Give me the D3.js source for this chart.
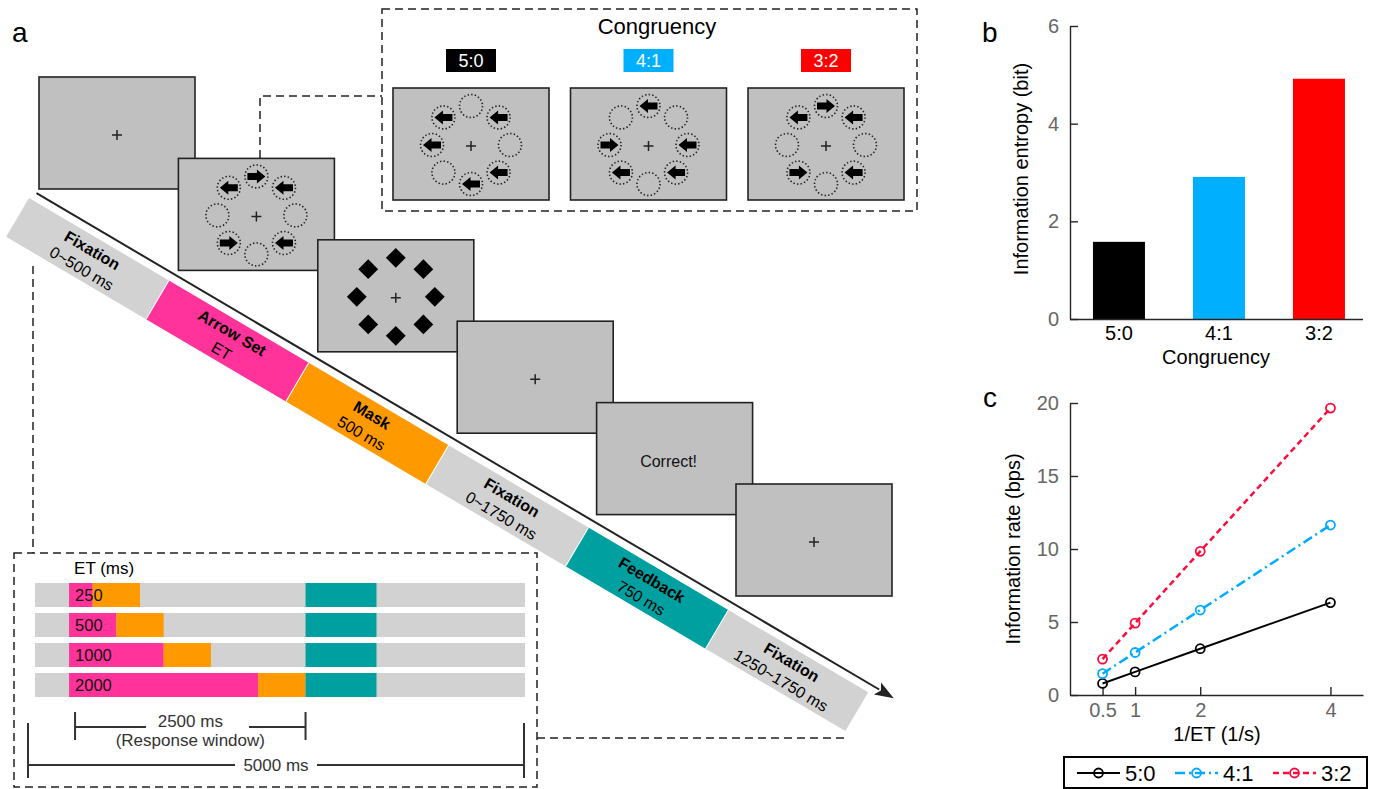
<!DOCTYPE html>
<html><head><meta charset="utf-8">
<script src="https://cdn.jsdelivr.net/npm/d3@7"></script>
<style>
body{margin:0;background:#fff}
svg{display:block;font-family:"Liberation Sans",Arial,sans-serif}
</style>
</head><body>
<svg id="fig" width="1377" height="789"></svg>
<script>
// ---------------- data ----------------
const congruency = ["5:0", "4:1", "3:2"];
const entropyBits = [1.58, 2.91, 4.92];
const entropyTicks = [0, 2, 4, 6];
const invET = [0.5, 1, 2, 4];
const rate50 = [0.79, 1.58, 3.17, 6.33];
const rate41 = [1.46, 2.91, 5.82, 11.64];
const rate32 = [2.46, 4.92, 9.84, 19.65];
const rateTicks = [0, 5, 10, 15, 20];
const invETTicks = [0.5, 1, 2, 4];
const etValues = [250, 500, 1000, 2000];
const phaseNames = ["Fixation", "Arrow Set", "Mask", "Fixation", "Feedback", "Fixation"];
const phaseDurations = ["0~500 ms", "ET", "500 ms", "0~1750 ms", "750 ms", "1250~1750 ms"];
const screenKinds = ["fix", "arrows", "mask", "fix", "text", "fix"];
const stimArrowSet = ["R", "L", "", "L", "", "R", "", "L"];
const stim50 = ["", "L", "", "L", "L", "", "L", "L"];
const stim41 = ["L", "", "L", "L", "", "L", "R", ""];
const stim32 = ["R", "L", "", "L", "", "R", "", "L"];
const preFixMs = 360, maskMs = 500, responseWindowMs = 2500, feedbackMs = 750, trialMs = 5180;

// ---------------- styles ----------------
const C_GRAY = "#d2d2d2", C_PINK = "#ff3399", C_ORANGE = "#ff9900", C_TEAL = "#00a0a0";
const C_SCREEN = "#c0c0c0", C_INK = "#222";
const congColors = ["#000000", "#00b0ff", "#ff0000"];
const lineColors = ["#000000", "#00aaff", "#ff0a3c"];
const lineDash = [null, "10,4,2,4", "6,4"];
const phaseColors = [C_GRAY, C_PINK, C_ORANGE, C_GRAY, C_TEAL, C_GRAY];

const svg = d3.select("#fig");

// ---------------- panel a ----------------
svg.append("text").attr("x", 12).attr("y", 42).attr("font-size", 28).text("a");

// timeline band
const bandLen = 974, bandW = 45;
const band = svg.append("g").attr("transform", "translate(29,198) rotate(30.5)");
const bx = d3.scaleBand().domain(d3.range(phaseNames.length)).range([0, bandLen]);
band.selectAll("rect.seg").data(phaseNames).join("rect")
  .attr("x", (d, i) => bx(i)).attr("y", 0)
  .attr("width", bx.bandwidth()).attr("height", bandW)
  .attr("fill", (d, i) => phaseColors[i]);
band.selectAll("line.sep").data(d3.range(1, phaseNames.length)).join("line")
  .attr("x1", i => bx(i)).attr("x2", i => bx(i)).attr("y1", 0).attr("y2", bandW)
  .attr("stroke", "#fff").attr("stroke-width", 1);
band.selectAll("text.name").data(phaseNames).join("text")
  .attr("x", (d, i) => bx(i) + bx.bandwidth() / 2).attr("y", 13).attr("dy", "0.35em")
  .attr("text-anchor", "middle").attr("font-size", 16).attr("font-weight", "bold").text(d => d);
band.selectAll("text.dur").data(phaseDurations).join("text")
  .attr("x", (d, i) => bx(i) + bx.bandwidth() / 2).attr("y", 34).attr("dy", "0.35em")
  .attr("text-anchor", "middle").attr("font-size", 16).text(d => d);
band.append("line").attr("x1", 4).attr("y1", -8).attr("x2", 982).attr("y2", -8)
  .attr("stroke", C_INK).attr("stroke-width", 2);
band.append("path").attr("d", "M999,-8 L980,-15 L984,-8 L980,-1 Z").attr("fill", C_INK);

// stimulus helpers
const ringR = 39;
function ringPos(k) { const a = -Math.PI / 2 + k * Math.PI / 4; return [ringR * Math.cos(a), ringR * Math.sin(a)]; }
const arrowPath = "M9,0 L0.5,-7 L0.5,-3.5 L-9,-3.5 L-9,3.5 L0.5,3.5 L0.5,7 Z";
function drawPlus(g, cx, cy) {
  g.append("path").attr("d", `M${cx - 5},${cy} H${cx + 5} M${cx},${cy - 5} V${cy + 5}`)
    .attr("stroke", C_INK).attr("stroke-width", 1.5);
}
function drawArrows(g, cx, cy, pattern) {
  pattern.forEach((p, k) => {
    const [dx, dy] = ringPos(k);
    const item = g.append("g").attr("transform", `translate(${cx + dx},${cy + dy})`);
    item.append("circle").attr("r", 11.5).attr("fill", "none").attr("stroke", C_INK)
      .attr("stroke-width", 1.6).attr("stroke-dasharray", "1.4,2.2");
    if (p) item.append("path").attr("d", arrowPath).attr("fill", "#000")
      .attr("transform", p === "L" ? "scale(-1,1)" : null);
  });
}
function drawMask(g, cx, cy) {
  for (let k = 0; k < 8; k++) {
    const [dx, dy] = ringPos(k);
    g.append("rect").attr("x", -7).attr("y", -7).attr("width", 14).attr("height", 14)
      .attr("fill", "#000").attr("transform", `translate(${cx + dx},${cy + dy}) rotate(45)`);
  }
}
const scrW = 156, scrH = 112;
function drawScreen(g, x, y, kind, pattern) {
  g.append("rect").attr("x", x).attr("y", y).attr("width", scrW).attr("height", scrH)
    .attr("fill", C_SCREEN).attr("stroke", C_INK).attr("stroke-width", 1.6);
  const cx = x + scrW / 2, cy = y + scrH / 2;
  if (kind === "fix") drawPlus(g, cx, cy + 2);
  if (kind === "arrows") { drawPlus(g, cx, cy + 2); drawArrows(g, cx, cy + 1, pattern); }
  if (kind === "mask") { drawPlus(g, cx, cy + 2); drawMask(g, cx, cy + 1); }
  if (kind === "text") g.append("text").attr("x", cx - 6).attr("y", cy + 3).attr("dy", "0.35em")
    .attr("text-anchor", "middle").attr("font-size", 16).attr("fill", "#111").text("Correct!");
}

// dashed connectors
const dash = { stroke: C_INK, "stroke-width": 1.5, "stroke-dasharray": "8,5", fill: "none" };
function dashed(d) { const p = svg.append("path").attr("d", d); Object.entries(dash).forEach(([k, v]) => p.attr(k, v)); return p; }
dashed("M260,158 V96 H382");
dashed("M33,266 V553");
dashed("M537,738 H848");

// sequence of screens
const screens = svg.append("g");
screenKinds.forEach((kind, i) => drawScreen(screens, 39 + i * 139.4, 77 + i * 81.4, kind, stimArrowSet));

// congruency box
const cb = svg.append("g");
dashed("M382,9 H917 V211 H382 Z");
cb.append("text").attr("x", 657).attr("y", 34).attr("text-anchor", "middle").attr("font-size", 22).text("Congruency");
const congStims = [stim50, stim41, stim32];
const cbx = d3.scalePoint().domain(congruency).range([471, 826]);
congruency.forEach((c, i) => {
  const cx = cbx(c);
  cb.append("rect").attr("x", cx - 25).attr("y", 49).attr("width", 50).attr("height", 23).attr("fill", congColors[i]);
  cb.append("text").attr("x", cx).attr("y", 61).attr("dy", "0.35em").attr("text-anchor", "middle")
    .attr("font-size", 18).attr("fill", "#fff").text(c);
  drawScreen(cb, cx - scrW / 2, 88, "arrows", congStims[i]);
});

// inset: ET timelines
const inset = svg.append("g");
dashed("M14,553 H537 V787 H14 Z");
const tx = d3.scaleLinear().domain([0, trialMs]).range([35, 525]);
const ty = d3.scaleBand().domain(etValues).range([580, 700]).paddingInner(0.2).paddingOuter(0.1);
inset.append("text").attr("x", tx(preFixMs) + 5).attr("y", 574).attr("font-size", 17).text("ET (ms)");
const rows = inset.selectAll("g.row").data(etValues).join("g").attr("transform", d => `translate(0,${ty(d)})`);
rows.append("rect").attr("x", tx(0)).attr("width", tx(trialMs) - tx(0)).attr("height", ty.bandwidth()).attr("fill", C_GRAY);
rows.append("rect").attr("x", tx(preFixMs)).attr("width", d => tx(preFixMs + d) - tx(preFixMs)).attr("height", ty.bandwidth()).attr("fill", C_PINK);
rows.append("rect").attr("x", d => tx(preFixMs + d)).attr("width", tx(maskMs) - tx(0)).attr("height", ty.bandwidth()).attr("fill", C_ORANGE);
rows.append("rect").attr("x", tx(preFixMs + responseWindowMs)).attr("width", tx(feedbackMs) - tx(0)).attr("height", ty.bandwidth()).attr("fill", C_TEAL);
rows.append("text").attr("x", tx(preFixMs) + 6).attr("y", ty.bandwidth() / 2).attr("dy", "0.36em")
  .attr("font-size", 16.5).attr("fill", "#111").text(d => d);

// brackets
const brk = { stroke: "#333", "stroke-width": 2, fill: "none" };
function solid(d) { const p = inset.append("path").attr("d", d); Object.entries(brk).forEach(([k, v]) => p.attr(k, v)); }
const r0 = tx(preFixMs) + 6, r1 = tx(preFixMs + responseWindowMs);
solid(`M${r0},712 V740 M${r1},712 V740 M${r0},727 H146 M249,727 H${r1}`);
inset.append("text").attr("x", (r0 + r1) / 2).attr("y", 727).attr("text-anchor", "middle").attr("font-size", 17).attr("fill", "#333").text("2500 ms");
inset.append("text").attr("x", (r0 + r1) / 2).attr("y", 746).attr("text-anchor", "middle").attr("font-size", 17).attr("fill", "#333").text("(Response window)");
solid("M28,723 V778 M524,723 V778 M28,765 H235 M317,765 H524");
inset.append("text").attr("x", 276).attr("y", 771).attr("text-anchor", "middle").attr("font-size", 17).attr("fill", "#333").text("5000 ms");

// ---------------- panel b ----------------
const pb = svg.append("g");
pb.append("text").attr("x", 982).attr("y", 42).attr("font-size", 28).text("b");
const bxs = d3.scaleBand().domain(congruency).range([1070, 1363]).paddingInner(0.48).paddingOuter(0.205).align(0.56);
const bys = d3.scaleLinear().domain([0, 6]).range([319, 26]);
pb.selectAll("rect.bar").data(entropyBits).join("rect")
  .attr("x", (d, i) => bxs(congruency[i])).attr("width", bxs.bandwidth())
  .attr("y", d => bys(d)).attr("height", d => bys(0) - bys(d))
  .attr("fill", (d, i) => congColors[i]);
const byAxis = pb.append("g").attr("transform", "translate(1070,0)")
  .call(d3.axisLeft(bys).tickValues(entropyTicks).tickFormat(d3.format("d")).tickSize(-8).tickSizeOuter(0).tickPadding(11));
const bxAxis = pb.append("g").attr("transform", "translate(0,319)")
  .call(d3.axisBottom(bxs).tickSize(0).tickPadding(7));
[byAxis, bxAxis].forEach(a => { a.selectAll("path,line").attr("stroke", "#262626").attr("stroke-width", 1.4); a.selectAll("text").attr("font-size", 20).attr("font-family", null); });
byAxis.selectAll("text").attr("fill", "#666");
bxAxis.selectAll("text").attr("fill", "#000");
bxAxis.select(".domain").attr("d", "M0,0.5H293").attr("transform", "translate(1070,0)");
pb.append("text").attr("x", 1216).attr("y", 364).attr("text-anchor", "middle").attr("font-size", 20).text("Congruency");
pb.append("text").attr("transform", "translate(1028,169) rotate(-90)").attr("text-anchor", "middle").attr("font-size", 20).text("Information entropy (bit)");

// ---------------- panel c ----------------
const pc = svg.append("g");
pc.append("text").attr("x", 983).attr("y", 407).attr("font-size", 28).text("c");
const cxs = d3.scaleLinear().domain([0, 4.5]).range([1070, 1363]);
const cys = d3.scaleLinear().domain([0, 20]).range([695, 403]);
const cyAxis = pc.append("g").attr("transform", "translate(1070,0)")
  .call(d3.axisLeft(cys).tickValues(rateTicks).tickFormat(d3.format("d")).tickSize(-8).tickSizeOuter(0).tickPadding(11));
const cxAxis = pc.append("g").attr("transform", "translate(0,695)")
  .call(d3.axisBottom(cxs).tickValues(invETTicks).tickFormat(d3.format("")).tickSize(-8).tickSizeOuter(0).tickPadding(8));
[cyAxis, cxAxis].forEach(a => { a.selectAll("path,line").attr("stroke", "#262626").attr("stroke-width", 1.4); a.selectAll("text").attr("font-size", 20).attr("font-family", null).attr("fill", "#666"); });
const series = [rate50, rate41, rate32];
const lineGen = d3.line().x((d, i) => cxs(invET[i])).y(d => cys(d));
series.forEach((s, k) => {
  pc.append("path").datum(s).attr("d", lineGen).attr("fill", "none")
    .attr("stroke", lineColors[k]).attr("stroke-width", k === 0 ? 2 : 2.5)
    .attr("stroke-dasharray", lineDash[k]);
  pc.selectAll(null).data(s).join("circle")
    .attr("cx", (d, i) => cxs(invET[i])).attr("cy", d => cys(d)).attr("r", 4.5)
    .attr("fill", "none").attr("stroke", lineColors[k]).attr("stroke-width", 1.8);
});
pc.append("text").attr("x", 1217).attr("y", 741).attr("text-anchor", "middle").attr("font-size", 20).text("1/ET (1/s)");
pc.append("text").attr("transform", "translate(1020,549) rotate(-90)").attr("text-anchor", "middle").attr("font-size", 20).text("Information rate (bps)");

// legend
const lg = pc.append("g");
lg.append("rect").attr("x", 1064).attr("y", 757).attr("width", 303).attr("height", 31)
  .attr("fill", "#fff").attr("stroke", "#000").attr("stroke-width", 2);
const legX = d3.scalePoint().domain(congruency).range([1077, 1273]);
congruency.forEach((c, k) => {
  const x0 = legX(c);
  lg.append("line").attr("x1", x0).attr("x2", x0 + 43).attr("y1", 773).attr("y2", 773)
    .attr("stroke", lineColors[k]).attr("stroke-width", k === 0 ? 2 : 2.5).attr("stroke-dasharray", lineDash[k]);
  lg.append("circle").attr("cx", x0 + 21.5).attr("cy", 773).attr("r", 4.5).attr("fill", "none")
    .attr("stroke", lineColors[k]).attr("stroke-width", 1.8);
  lg.append("text").attr("x", x0 + 48).attr("y", 773).attr("dy", "0.36em").attr("font-size", 22).text(c);
});
</script>
</body></html>
